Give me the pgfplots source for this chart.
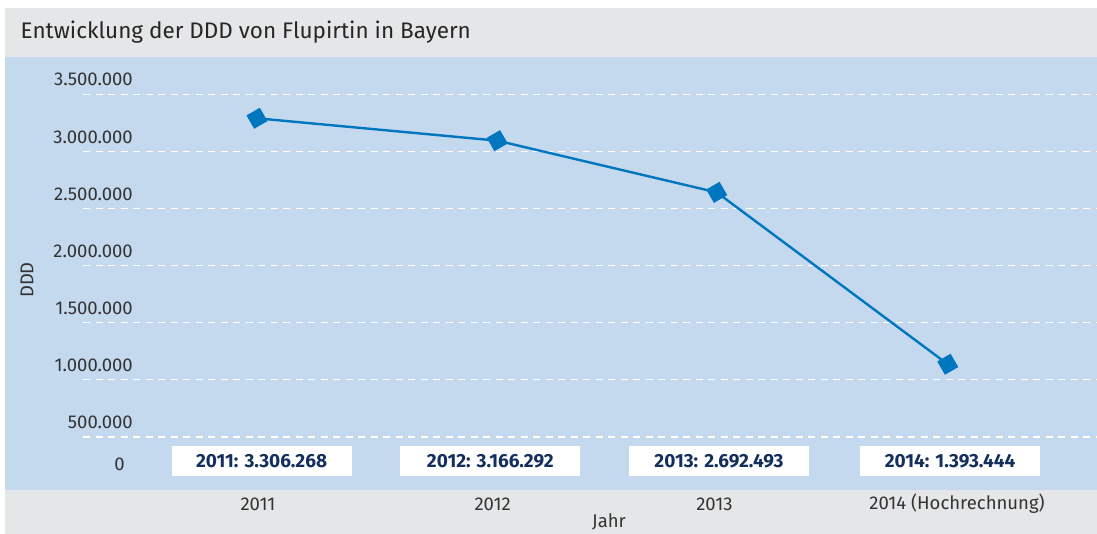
\documentclass[border=0pt]{standalone}
\usepackage{pgfplots}
\pgfplotsset{compat=1.18}
\usepackage{pgfplotstable}
\usepackage{fontspec}
\setmainfont{Fira Sans}
\definecolor{bgGray}{HTML}{E5E6E7}
\definecolor{bgBlue}{HTML}{C4D9EE}
\definecolor{lineBlue}{HTML}{0076BF}
\definecolor{navy}{HTML}{142F5E}
\definecolor{txt}{HTML}{333333}

\pgfplotstableread{
x y
0 3290000
1.04 3094000
1.99 2641000
2.99 1135000
}\ddd

\begin{document}
\begin{tikzpicture}[x=1pt,y=1pt]
\path[use as bounding box] (0,0) rectangle (1097,-534);
\fill[white] (0,0) rectangle (1097,-534);
\fill[bgGray] (5,-8) rectangle (1097,-56.7);
\fill[bgBlue] (5,-56.7) rectangle (1097,-490);
\fill[bgGray] (5,-490) rectangle (1097,-534);
\node[anchor=west, inner sep=0pt, font=\fontsize{22.5}{26}\selectfont, text=black!85] at (20.5,-32) {Entwicklung der DDD von Flupirtin in Bayern};
\begin{axis}[
  at={(83pt,-490pt)}, anchor=south west,
  scale only axis, width=1014pt, height=433.3pt,
  xmin=-0.753, xmax=3.636, ymin=33300, ymax=3829600,
  scaled y ticks=false,
  axis line style={draw=none}, major tick style={draw=none}, minor tick style={draw=none},
  clip=false,
  ymajorgrids,
  major grid style={white, line width=1.6pt, dash pattern=on 7pt off 5.5pt},
  ytick={500000,1000000,1500000,2000000,2500000,3000000,3500000},
  yticklabels={500.000,1.000.000,1.500.000,2.000.000,2.500.000,3.000.000,3.500.000},
  yticklabel style={anchor=east, inner sep=0pt, xshift=50pt, yshift=14.5pt, text=txt, font=\fontsize{18.5}{22}\selectfont},
  xtick={0.004,1.02,1.98,3.03},
  xticklabels={2011,2012,2013,2014 (Hochrechnung)},
  xticklabel style={anchor=center, inner sep=0pt, yshift=-14pt, text=txt, font=\fontsize{18.5}{22}\selectfont},
]
\addplot[lineBlue, line width=2.4pt, mark=square*, mark size=6.5pt,
  mark options={rotate=30, solid, fill=lineBlue, draw=none}] table[x=x,y=y]{\ddd};
\begin{scope}[every node/.style={fill=white, minimum width=180pt, minimum height=30pt, inner sep=0pt, text=navy, font=\fontsize{19}{22}\bfseries\selectfont}]
\node at (axis cs:0.02,287000) {2011: 3.306.268};
\node at (axis cs:1.01,287000) {2012: 3.166.292};
\node at (axis cs:2.00,287000) {2013: 2.692.493};
\node at (axis cs:3.00,287000) {2014: 1.393.444};
\end{scope}
\end{axis}
\node[anchor=east, font=\fontsize{18.5}{22}\selectfont, text=txt, inner sep=0pt] at (125,-464) {0};
\node[font=\fontsize{18.5}{22}\selectfont, text=txt, inner sep=0pt] at (609,-522) {Jahr};
\node[font=\fontsize{18.5}{22}\selectfont, text=txt, inner sep=0pt, rotate=90] at (27,-280) {DDD};
\end{tikzpicture}
\end{document}
